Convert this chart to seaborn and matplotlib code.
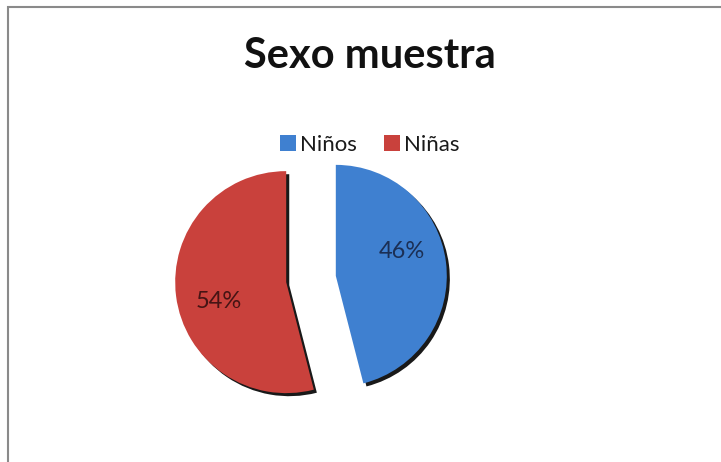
import matplotlib
matplotlib.use("Agg")
import matplotlib.pyplot as plt
import matplotlib.patheffects as pe
from matplotlib.patches import Patch, Rectangle
import seaborn as sns

# Sample composition by sex
categories = ["Niños", "Niñas"]
shares = [46, 54]
title = "Sexo muestra"

sns.set_theme(style="white")
plt.rcParams["font.family"] = ["Lato", "DejaVu Sans"]

colors = ["#3f80d0", "#c9413c"]
label_colors = ["#1b2f55", "#461414"]

W, H = 721, 462
fig = plt.figure(figsize=(W / 100, H / 100), dpi=100)
ax = fig.add_axes([0, 0, 1, 1])

shadow = [pe.SimplePatchShadow(offset=(2.2, -2.2), shadow_rgbFace="black", alpha=0.9),
          pe.Normal()]

# axes units are pixels, so radius and explode offset are given in the same units
radius = 111
wedges, texts, autotexts = ax.pie(
    shares,
    colors=colors,
    startangle=90,
    counterclock=False,
    explode=[25, 25],
    radius=radius,
    center=(311, 183),
    autopct="%1.0f%%",
    wedgeprops=dict(linewidth=0, path_effects=shadow),
    textprops=dict(fontsize=17),
)

# place percentage labels inside each slice
label_pos = [(402, 210), (219, 160)]
for t, pos, c in zip(autotexts, label_pos, label_colors):
    t.set_position(pos)
    t.set_color(c)
    t.set_ha("center")
    t.set_va("center")

ax.set_xlim(0, W)
ax.set_ylim(0, H)
ax.set_aspect("equal")
ax.axis("off")

ax.text(370, 406, title, ha="center", va="center", fontsize=30, fontweight="bold",
        color="#111111")

handles = [Patch(facecolor=c, edgecolor="none") for c in colors]
fig.legend(handles, categories, loc="center", bbox_to_anchor=(370 / W, 317 / H),
           ncol=2, frameon=False, fontsize=16, handlelength=0.7, handleheight=0.7,
           handletextpad=0.2, columnspacing=1.2, labelcolor="#1a1a1a")

# chart area border (top and left visible)
ax.add_patch(Rectangle((7.5, -20), W + 20, H - 6.5 + 20, fill=False,
                       edgecolor="#8a8a8a", linewidth=1.5, clip_on=False))

fig.savefig("out.png", dpi=100, facecolor="white")
